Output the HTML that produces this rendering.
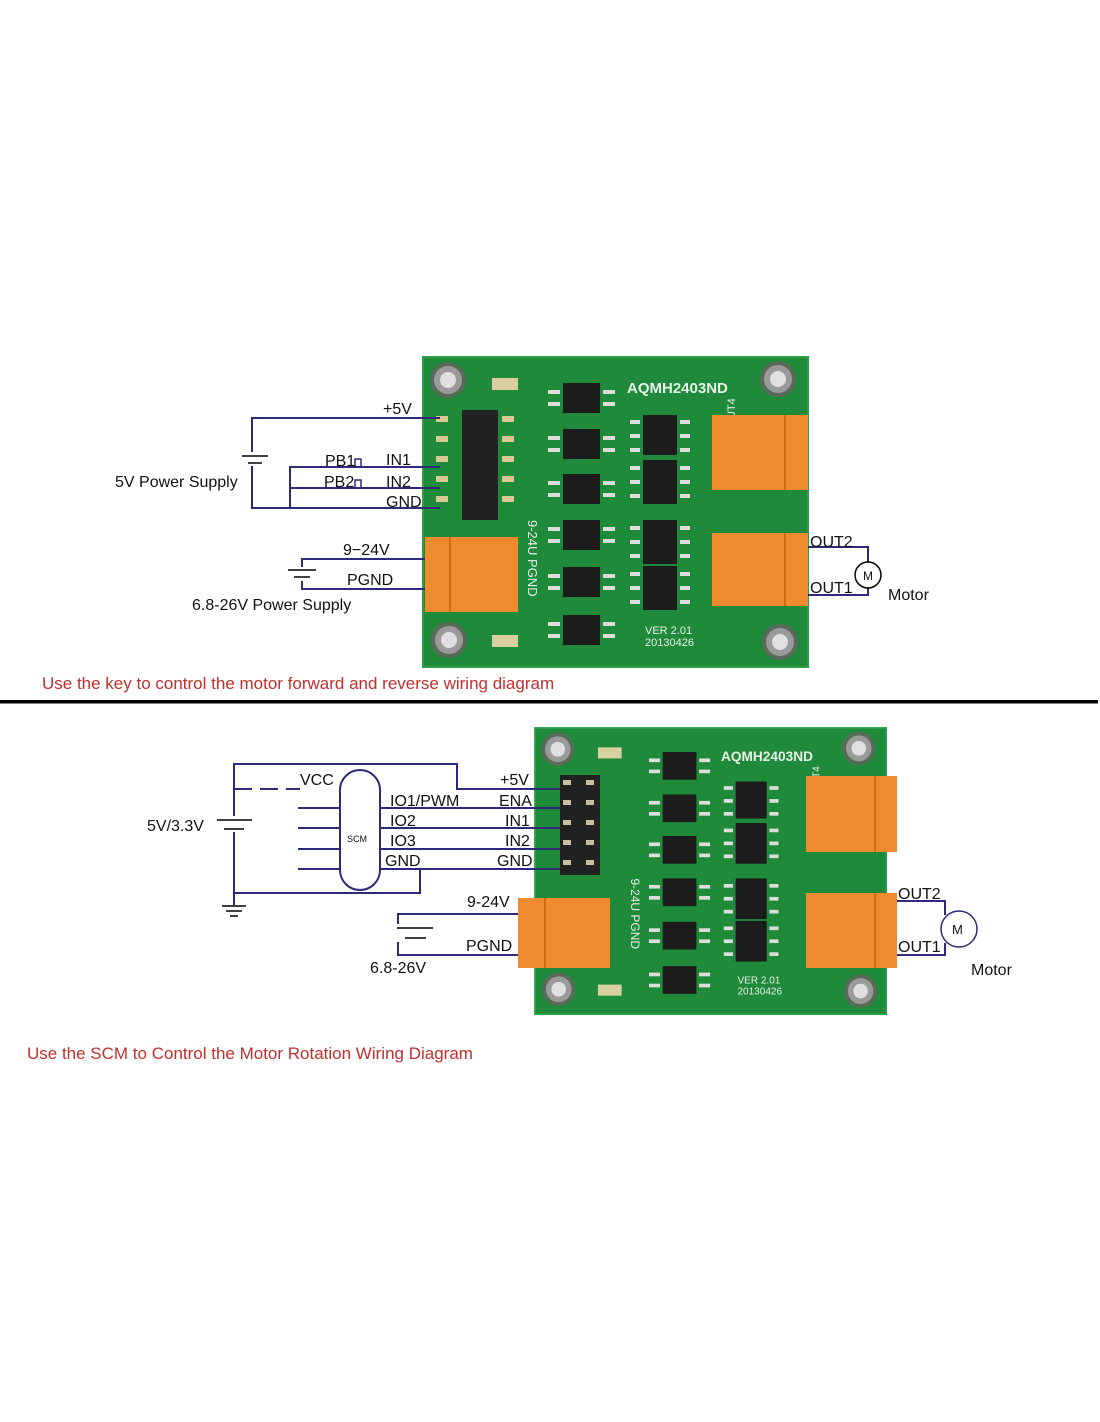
<!DOCTYPE html>
<html><head><meta charset="utf-8"><style>
html,body{margin:0;padding:0;background:#fff;width:1100px;height:1422px;overflow:hidden}
svg{display:block}
text{font-family:"Liberation Sans",sans-serif}
</style></head><body>
<svg width="1100" height="1422" viewBox="0 0 1100 1422" xmlns="http://www.w3.org/2000/svg">
<defs>
<g id="board">
  <rect x="423" y="357" width="385" height="310" fill="#1f8a3a"/>
  <rect x="423" y="357" width="385" height="310" fill="none" stroke="#2aa04a" stroke-width="2"/>
  <g fill="#9a9a9a" stroke="#5a6a5a" stroke-width="4">
    <circle cx="448" cy="380" r="16"/><circle cx="778" cy="379" r="16"/>
    <circle cx="449" cy="640" r="16"/><circle cx="780" cy="642" r="16"/>
  </g>
  <g fill="#e0e0e0"><circle cx="448" cy="380" r="8"/><circle cx="778" cy="379" r="8"/><circle cx="449" cy="640" r="8"/><circle cx="780" cy="642" r="8"/></g>
  <rect x="492" y="378" width="26" height="12" fill="#d8d0a0"/>
  <rect x="492" y="635" width="26" height="12" fill="#d8d0a0"/>
  <g fill="#1c1c1c">
    <rect x="563" y="383" width="37" height="30"/><rect x="563" y="429" width="37" height="30"/>
    <rect x="563" y="474" width="37" height="30"/><rect x="563" y="520" width="37" height="30"/>
    <rect x="563" y="567" width="37" height="30"/><rect x="563" y="615" width="37" height="30"/>
    <rect x="643" y="415" width="34" height="40"/><rect x="643" y="460" width="34" height="44"/>
    <rect x="643" y="520" width="34" height="44"/><rect x="643" y="566" width="34" height="44"/>
  </g>
  <g fill="#ddd">
    <rect x="548" y="390" width="12" height="4"/><rect x="548" y="402" width="12" height="4"/><rect x="603" y="390" width="12" height="4"/><rect x="603" y="402" width="12" height="4"/>
    <rect x="548" y="436" width="12" height="4"/><rect x="548" y="448" width="12" height="4"/><rect x="603" y="436" width="12" height="4"/><rect x="603" y="448" width="12" height="4"/>
    <rect x="548" y="481" width="12" height="4"/><rect x="548" y="493" width="12" height="4"/><rect x="603" y="481" width="12" height="4"/><rect x="603" y="493" width="12" height="4"/>
    <rect x="548" y="527" width="12" height="4"/><rect x="548" y="539" width="12" height="4"/><rect x="603" y="527" width="12" height="4"/><rect x="603" y="539" width="12" height="4"/>
    <rect x="548" y="574" width="12" height="4"/><rect x="548" y="586" width="12" height="4"/><rect x="603" y="574" width="12" height="4"/><rect x="603" y="586" width="12" height="4"/>
    <rect x="548" y="622" width="12" height="4"/><rect x="548" y="634" width="12" height="4"/><rect x="603" y="622" width="12" height="4"/><rect x="603" y="634" width="12" height="4"/>
    <rect x="630" y="420" width="10" height="4"/><rect x="630" y="434" width="10" height="4"/><rect x="630" y="448" width="10" height="4"/><rect x="680" y="420" width="10" height="4"/><rect x="680" y="434" width="10" height="4"/><rect x="680" y="448" width="10" height="4"/>
    <rect x="630" y="466" width="10" height="4"/><rect x="630" y="480" width="10" height="4"/><rect x="630" y="494" width="10" height="4"/><rect x="680" y="466" width="10" height="4"/><rect x="680" y="480" width="10" height="4"/><rect x="680" y="494" width="10" height="4"/>
    <rect x="630" y="526" width="10" height="4"/><rect x="630" y="540" width="10" height="4"/><rect x="630" y="554" width="10" height="4"/><rect x="680" y="526" width="10" height="4"/><rect x="680" y="540" width="10" height="4"/><rect x="680" y="554" width="10" height="4"/>
    <rect x="630" y="572" width="10" height="4"/><rect x="630" y="586" width="10" height="4"/><rect x="630" y="600" width="10" height="4"/><rect x="680" y="572" width="10" height="4"/><rect x="680" y="586" width="10" height="4"/><rect x="680" y="600" width="10" height="4"/>
  </g>
  <text x="627" y="393" font-size="15" font-weight="bold" fill="#e8f0e8">AQMH2403ND</text>
  <text x="645" y="634" font-size="11" fill="#e8f0e8">VER 2.01</text>
  <text x="645" y="646" font-size="11" fill="#e8f0e8">20130426</text>
  <text x="528" y="520" font-size="13" fill="#e8f0e8" transform="rotate(90 528 520)">9-24U PGND</text>
  <text x="690" y="485" font-size="11" fill="#e8f0e8" transform="rotate(-90 700 450)">OUT3 OUT4</text>
</g>
</defs>

<use href="#board"/>
<!-- top board header and terminals -->
<rect x="462" y="410" width="36" height="110" fill="#222"/>
<g fill="#d8c890">
  <rect x="436" y="416" width="12" height="6"/><rect x="436" y="436" width="12" height="6"/><rect x="436" y="456" width="12" height="6"/><rect x="436" y="476" width="12" height="6"/><rect x="436" y="496" width="12" height="6"/>
  <rect x="502" y="416" width="12" height="6"/><rect x="502" y="436" width="12" height="6"/><rect x="502" y="456" width="12" height="6"/><rect x="502" y="476" width="12" height="6"/><rect x="502" y="496" width="12" height="6"/>
</g>
<g fill="#f08a2e"><rect x="712" y="415" width="96" height="75"/><rect x="712" y="533" width="96" height="73"/><rect x="425" y="537" width="93" height="75"/></g>
<g stroke="#d06a18" stroke-width="2"><line x1="785" y1="415" x2="785" y2="490"/><line x1="785" y1="533" x2="785" y2="606"/><line x1="450" y1="537" x2="450" y2="612"/></g>

<g transform="translate(535 728) scale(0.912 0.923) translate(-423 -357)"><use href="#board"/></g>
<!-- bottom board header and terminals -->
<rect x="560" y="775" width="40" height="100" fill="#222"/>
<g fill="#c8c0a0">
  <rect x="563" y="780" width="8" height="5"/><rect x="563" y="800" width="8" height="5"/><rect x="563" y="820" width="8" height="5"/><rect x="563" y="840" width="8" height="5"/><rect x="563" y="860" width="8" height="5"/>
  <rect x="586" y="780" width="8" height="5"/><rect x="586" y="800" width="8" height="5"/><rect x="586" y="820" width="8" height="5"/><rect x="586" y="840" width="8" height="5"/><rect x="586" y="860" width="8" height="5"/>
</g>
<g fill="#f08a2e"><rect x="806" y="776" width="91" height="76"/><rect x="806" y="893" width="91" height="75"/><rect x="518" y="898" width="92" height="70"/></g>
<g stroke="#d06a18" stroke-width="2"><line x1="875" y1="776" x2="875" y2="852"/><line x1="875" y1="893" x2="875" y2="968"/><line x1="545" y1="898" x2="545" y2="968"/></g>

<!-- top wiring -->
<g stroke="#2b2b78" stroke-width="2" fill="none">
  <polyline points="440,418 252,418 252,508 440,508"/>
  <polyline points="440,467 290,467 290,508"/>
  <line x1="290" y1="488" x2="440" y2="488"/>
  <polyline points="425,559 302,559 302,589 425,589"/>
  <polyline points="808,547 868,547 868,562"/>
  <polyline points="808,595 868,595 868,588"/>
</g>
<g stroke="#000" stroke-width="1.5" fill="none">
  <rect x="243" y="452" width="22" height="14" fill="#fff" stroke="none"/>
  <line x1="242" y1="456" x2="268" y2="456"/><line x1="248" y1="463" x2="262" y2="463"/>
  <rect x="290" y="567" width="24" height="14" fill="#fff" stroke="none"/>
  <line x1="288" y1="570" x2="316" y2="570"/><line x1="294" y1="577" x2="310" y2="577"/>
  <circle cx="868" cy="575" r="13" fill="#fff"/>
  <path d="M355 467 v-8 h6 v8 M355 488 v-8 h6 v8" stroke="#2b2b78"/>
</g>
<g font-size="16" fill="#111">
  <text x="383" y="414">+5V</text>
  <text x="325" y="466">PB1</text><text x="386" y="465">IN1</text>
  <text x="324" y="487">PB2</text><text x="386" y="487">IN2</text>
  <text x="386" y="507">GND</text>
  <text x="343" y="555">9−24V</text><text x="347" y="585">PGND</text>
  <text x="810" y="547">OUT2</text><text x="810" y="593">OUT1</text>
  <text x="863" y="580" font-size="12">M</text>
</g>
<g font-size="16" fill="#111">
  <text x="115" y="487">5V Power Supply</text>
  <text x="192" y="610">6.8-26V Power Supply</text>
  <text x="888" y="600">Motor</text>
</g>
<text x="42" y="689" font-size="17" fill="#c0302c">Use the key to control the motor forward and reverse wiring diagram</text>
<rect x="0" y="700" width="1098" height="3.5" fill="#000"/>

<!-- bottom wiring -->
<g stroke="#2b2b78" stroke-width="2" fill="none">
  <polyline points="234,893 234,764 457,764 457,789 560,789"/>
  <line x1="234" y1="789" x2="300" y2="789" stroke-dasharray="18,8"/>
  <line x1="380" y1="808" x2="560" y2="808"/>
  <line x1="380" y1="828" x2="560" y2="828"/>
  <line x1="380" y1="849" x2="560" y2="849"/>
  <line x1="380" y1="869" x2="560" y2="869"/>
  <polyline points="420,869 420,893 234,893 234,905"/>
  <line x1="298" y1="808" x2="340" y2="808"/><line x1="298" y1="828" x2="340" y2="828"/>
  <line x1="298" y1="849" x2="340" y2="849"/><line x1="298" y1="869" x2="340" y2="869"/>
  <rect x="340" y="770" width="40" height="120" rx="20"/>
  <polyline points="518,914 398,914 398,955 518,955"/>
  <polyline points="897,901 945,901 945,915"/>
  <polyline points="897,955 945,955 945,943"/>
</g>
<g stroke="#000" stroke-width="1.5" fill="none">
  <rect x="222" y="816" width="26" height="16" fill="#fff" stroke="none"/>
  <line x1="217" y1="820" x2="252" y2="820"/><line x1="224" y1="829" x2="244" y2="829"/>
  <line x1="222" y1="906" x2="246" y2="906"/><line x1="226" y1="911" x2="242" y2="911"/><line x1="230" y1="916" x2="238" y2="916"/>
  <rect x="390" y="924" width="26" height="18" fill="#fff" stroke="none"/>
  <line x1="397" y1="928" x2="433" y2="928"/><line x1="405" y1="938" x2="426" y2="938"/>
  <circle cx="959" cy="929" r="18" fill="#fff" stroke="#2b2b78"/>
</g>
<g font-size="16" fill="#111">
  <text x="300" y="785">VCC</text>
  <text x="500" y="785">+5V</text>
  <text x="390" y="806">IO1/PWM</text><text x="499" y="806">ENA</text>
  <text x="390" y="826">IO2</text><text x="505" y="826">IN1</text>
  <text x="390" y="846">IO3</text><text x="505" y="846">IN2</text>
  <text x="385" y="866">GND</text><text x="497" y="866">GND</text>
  <text x="147" y="831">5V/3.3V</text>
  <text x="467" y="907">9-24V</text><text x="466" y="951">PGND</text>
  <text x="370" y="973">6.8-26V</text>
  <text x="898" y="899">OUT2</text><text x="898" y="952">OUT1</text>
  <text x="952" y="934" font-size="13" font-family="Liberation Serif,serif">M</text>
  <text x="971" y="975" font-size="16">Motor</text>
</g>
<text x="347" y="842" font-size="9" fill="#111">SCM</text>
<text x="27" y="1059" font-size="17" fill="#c0302c">Use the SCM to Control the Motor Rotation Wiring Diagram</text>
</svg>
</body></html>
